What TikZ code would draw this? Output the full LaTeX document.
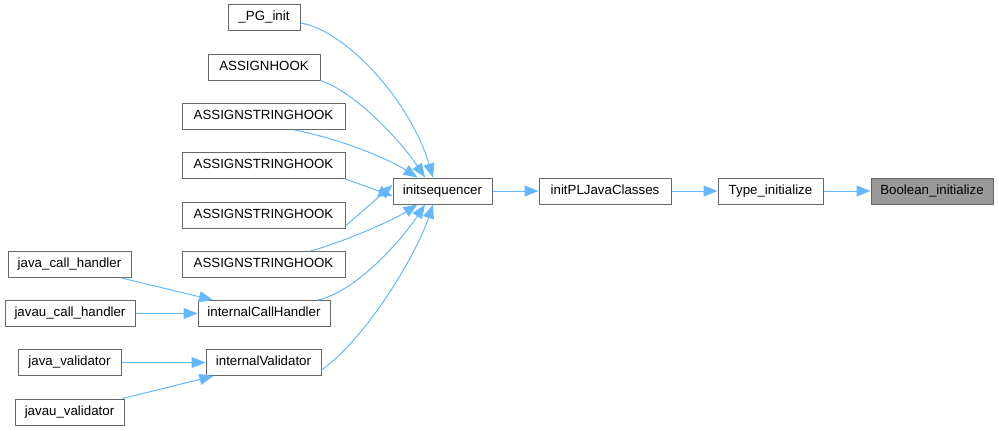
\documentclass[tikz,border=0pt]{standalone}
\usepackage{fontspec}
\setmainfont{Liberation Sans}
\usetikzlibrary{arrows.meta}
\definecolor{edgeblue}{HTML}{63B8FF}
\definecolor{boxgray}{HTML}{666666}
\definecolor{fillgray}{HTML}{999999}
\tikzset{
  fn/.style={draw=boxgray, line width=1pt, fill=white, inner sep=0pt, minimum height=26pt,
    text height=9.5pt, text depth=2.8pt,
    font=\fontsize{13.3}{16}\selectfont, anchor=center},
  cur/.style={fn, fill=fillgray},
  call/.style={draw=edgeblue, line width=1pt, -{Triangle[length=14pt,width=11pt]}}
}
\begin{document}
\begin{tikzpicture}[x=1pt,y=-1pt]
\useasboundingbox (0,0) rectangle (999,431);
\node[fn, minimum width=72pt]  (pg)   at (264,17.5) {\_PG\_init};
\node[fn, minimum width=112pt] (ah)   at (264,67) {ASSIGNHOOK};
\node[fn, minimum width=163pt] (ash1) at (263.5,116.5) {ASSIGNSTRINGHOOK};
\node[fn, minimum width=163pt] (ash2) at (263.5,165.5) {ASSIGNSTRINGHOOK};
\node[fn, minimum width=163pt] (ash3) at (263.5,215) {ASSIGNSTRINGHOOK};
\node[fn, minimum width=163pt] (ash4) at (263.5,264.5) {ASSIGNSTRINGHOOK};
\node[fn, minimum width=99pt]  (seq)  at (442.5,191) {initsequencer};
\node[fn, minimum width=123pt] (jch)  at (69.5,264.5) {java\_call\_handler};
\node[fn, minimum width=130pt] (juch) at (70,313.5) {javau\_call\_handler};
\node[fn, minimum width=132pt] (ich)  at (264,313.5) {internalCallHandler};
\node[fn, minimum width=103pt] (jv)   at (69.5,362.5) {java\_validator};
\node[fn, minimum width=115pt] (iv)   at (263.5,362.5) {internalValidator};
\node[fn, minimum width=109pt] (juv)  at (69.5,412) {javau\_validator};
\node[fn, minimum width=132pt] (ipl)  at (605,191) {initPLJavaClasses};
\node[fn, minimum width=105pt] (ti)   at (770.5,191) {Type\_initialize};
\node[cur, minimum width=122pt] (bi)  at (932,191) {Boolean\_initialize};

\draw[call] ([yshift=-5.5pt]pg.east) .. controls (345,30) and (410,100) .. ([xshift=-9.5pt]seq.north);
\draw[call] (ah.south east) .. controls (355,92) and (400,140) .. ([xshift=-17.5pt]seq.north);
\draw[call] ([xshift=31pt]ash1.south) .. controls (345,140) and (390,160) .. ([xshift=-25pt]seq.north);
\draw[call] (ash2.south east) -- ([yshift=-5pt]seq.west);
\draw[call] ([yshift=-11pt]ash3.east) -- ([yshift=6pt]seq.west);
\draw[call] ([xshift=47pt]ash4.north) .. controls (340,243) and (390,222) .. ([xshift=-25pt]seq.south);
\draw[call] ([xshift=54pt]ich.north) .. controls (360,290) and (405,235) .. ([xshift=-17.5pt]seq.south);
\draw[call] ([xshift=-0.5pt, yshift=-8pt]iv.east) .. controls (370,335) and (418,250) .. ([xshift=-9.5pt]seq.south);
\draw[call] ([xshift=52pt]jch.south) -- ([xshift=-51pt]ich.north);
\draw[call] (juch) -- (ich);
\draw[call] (jv) -- (iv);
\draw[call] ([xshift=53pt]juv.north) -- ([xshift=-50pt]iv.south);
\draw[call] (seq) -- (ipl);
\draw[call] (ipl) -- (ti);
\draw[call] (ti) -- (bi);
\end{tikzpicture}
\end{document}
